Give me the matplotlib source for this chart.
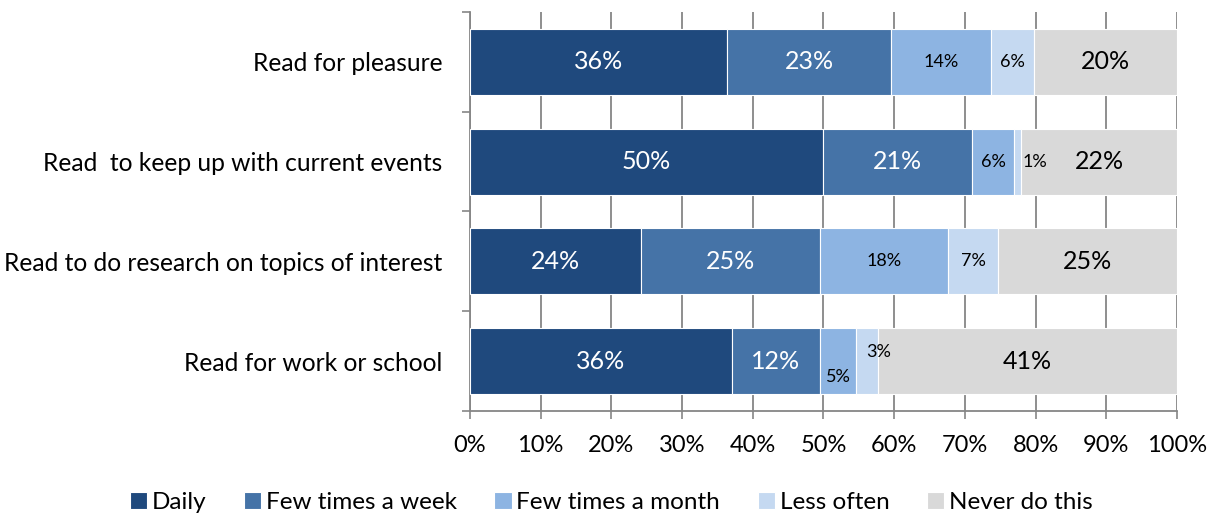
import numpy as np
import matplotlib
matplotlib.use("Agg")
import matplotlib.pyplot as plt

plt.rcParams['font.family'] = ['Lato', 'DejaVu Sans']

categories = ["Read for pleasure",
              "Read  to keep up with current events",
              "Read to do research on topics of interest",
              "Read for work or school"]
series = ["Daily", "Few times a week", "Few times a month",
          "Less often", "Never do this"]
daily = [36, 50, 24, 36]
few_week = [23, 21, 25, 12]
few_month = [14, 6, 18, 5]
less_often = [6, 1, 7, 3]
never = [20, 22, 25, 41]

colors = ["#1F497D", "#4573A7", "#8DB4E2", "#C5D9F1", "#D9D9D9"]
text_colors = ["white", "white", "black", "black", "black"]
text_sizes = [18, 18, 13, 13, 18]
# nudges for labels that would not fit inside thin segments (x in %, y in rows)
nudge = {(1, 3): (2.4, 0.0), (3, 2): (0.1, 0.16), (3, 3): (1.6, -0.09)}

data = np.array([daily, few_week, few_month, less_often, never], dtype=float)
share = data / data.sum(axis=0) * 100

fig = plt.figure(figsize=(12.14, 5.14), dpi=100)
ax = fig.add_axes([0.387, 0.2004, 0.5825, 0.7763])

y = np.arange(len(categories))
left = np.zeros(len(categories))
for i, name in enumerate(series):
    ax.barh(y, share[i], left=left, height=0.66, color=colors[i],
            edgecolor="white", linewidth=0.8, label=name, zorder=3)
    for j in range(len(categories)):
        dx, dy = nudge.get((j, i), (0, 0))
        ax.text(left[j] + share[i][j] / 2 + dx, y[j] + dy,
                "%d%%" % data[i][j], ha="center", va="center",
                color=text_colors[i], fontsize=text_sizes[i], zorder=4)
    left += share[i]

ax.set_xlim(0, 100)
ax.set_ylim(3.5, -0.5)
ax.set_xticks(np.arange(0, 101, 10))
ax.set_xticklabels(["%d%%" % v for v in range(0, 101, 10)], fontsize=17)
ax.set_yticks(y)
ax.set_yticklabels(categories, fontsize=17.7)
ax.set_yticks(np.arange(-0.5, 4, 1), minor=True)
ax.tick_params(axis="y", which="major", length=0, pad=19.5)
ax.tick_params(axis="y", which="minor", length=6, color="#868686", width=1.2)
ax.tick_params(axis="x", length=6, color="#868686", width=1.2, pad=11)

ax.grid(axis="x", color="#868686", linewidth=1.3, zorder=0)
for s in ["top", "right"]:
    ax.spines[s].set_visible(False)
for s in ["left", "bottom"]:
    ax.spines[s].set_color("#868686")
    ax.spines[s].set_linewidth(1.3)

fig.legend(loc="lower center", bbox_to_anchor=(0.5035, -0.04), ncol=5,
           frameon=False, fontsize=17.5, handlelength=0.7, handleheight=0.7,
           handletextpad=0.2, columnspacing=1.55)

fig.savefig("out.png", dpi=100)
